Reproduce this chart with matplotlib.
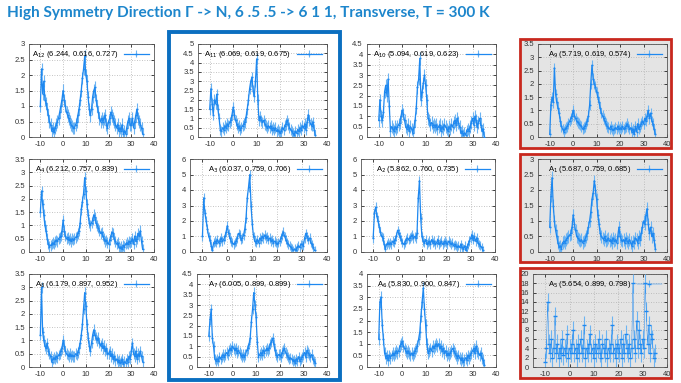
import numpy as np
import matplotlib
matplotlib.use("Agg")
import matplotlib.pyplot as plt
from matplotlib.patches import Rectangle

plt.rcParams['axes.unicode_minus'] = False
plt.rcParams['font.family'] = ['Liberation Sans', 'DejaVu Sans']

# ---------------- data ----------------
x_vals = np.arange(-10, 35.01, 0.5)   # energy axis, 91 points

A12 = [1.0, 2.2, 1.4, 1.8, 1.2, 1.1, 0.9, 0.7, 0.5, 0.4,
       0.2, 0.3, 0.15, 0.3, 0.4, 0.5, 0.6, 0.8, 1.0, 1.2,
       1.5, 1.2, 1.0, 0.8, 0.7, 0.6, 0.5, 0.4, 0.35, 0.3,
       0.3, 0.4, 0.5, 0.7, 0.9, 1.2, 1.5, 1.9, 2.2, 2.6,
       2.0, 1.8, 1.3, 0.9, 0.7, 0.9, 1.3, 1.5, 1.6, 1.2,
       1.0, 0.8, 0.6, 0.5, 0.6, 0.5, 0.6, 0.7, 0.4, 0.3,
       0.5, 0.6, 0.8, 0.7, 0.6, 0.5, 0.4, 0.3, 0.4, 0.2,
       0.3, 0.2, 0.4, 0.1, 0.2, 0.1, 0.3, 0.5, 0.6, 0.4,
       0.4, 0.6, 0.3, 0.5, 0.7, 0.9, 0.6, 0.5, 0.4, 0.3,
       0.1]
A11 = [1.5, 2.6, 1.8, 1.2, 2.0, 1.8, 2.3, 1.5, 1.0, 0.4,
       0.3, 0.5, 0.4, 0.6, 0.5, 0.7, 0.6, 0.8, 0.9, 1.2,
       1.6, 1.2, 0.9, 0.7, 0.5, 0.6, 0.4, 0.5, 0.6, 0.7,
       0.8, 1.1, 1.5, 2.0, 2.6, 3.0, 3.2, 2.5, 2.2, 3.0,
       4.2, 2.0, 0.9, 1.1, 0.9, 0.8, 0.9, 0.7, 0.6, 0.5,
       0.6, 0.5, 0.6, 0.4, 0.5, 0.4, 0.5, 0.3, 0.4, 0.3,
       0.2, 0.3, 0.5, 0.4, 0.6, 0.7, 0.9, 0.7, 0.5, 0.4,
       0.3, 0.2, 0.1, 0.3, 0.2, 0.4, 0.3, 0.5, 0.4, 0.6,
       0.5, 0.7, 0.4, 0.8, 1.2, 0.9, 0.7, 0.6, 0.8, 0.4,
       0.1]
A10 = [0.8, 1.8, 1.0, 0.8, 1.2, 2.2, 2.5, 2.0, 2.8, 1.5,
       0.3, 0.5, 0.4, 0.3, 0.5, 0.4, 0.5, 0.6, 0.7, 1.0,
       1.3, 1.1, 0.8, 0.5, 0.4, 0.6, 0.3, 0.5, 0.4, 0.2,
       0.5, 0.8, 1.4, 2.4, 2.8, 3.8, 1.8, 2.2, 2.6, 3.0,
       2.5, 1.8, 0.9, 0.8, 0.6, 0.7, 0.5, 0.6, 0.5, 0.6,
       0.4, 0.5, 0.6, 0.3, 0.5, 0.4, 0.6, 0.5, 0.4, 0.3,
       0.5, 0.4, 0.6, 0.5, 0.7, 0.8, 0.6, 0.9, 0.7, 0.5,
       0.2, 0.3, 0.1, 0.2, 0.1, 0.3, 0.4, 0.3, 0.5, 0.7,
       0.9, 0.6, 1.0, 0.8, 0.5, 0.7, 0.9, 0.6, 0.3, 0.4,
       0.0]
A9 = [0.1, 1.2, 1.5, 1.3, 2.6, 1.6, 1.3, 1.1, 0.9, 0.6,
      0.4, 0.3, 0.2, 0.3, 0.35, 0.4, 0.5, 0.6, 0.7, 0.8,
      1.0, 0.8, 0.7, 0.6, 0.55, 0.5, 0.45, 0.4, 0.3, 0.35,
      0.4, 0.5, 0.6, 0.8, 1.2, 2.0, 2.7, 2.2, 2.0, 1.9,
      1.7, 1.5, 1.3, 1.1, 0.9, 0.8, 0.7, 0.6, 0.5, 0.4,
      0.35, 0.3, 0.4, 0.3, 0.25, 0.3, 0.35, 0.3, 0.4, 0.3,
      0.35, 0.3, 0.4, 0.3, 0.35, 0.4, 0.5, 0.4, 0.3, 0.35,
      0.2, 0.3, 0.1, 0.4, 0.2, 0.5, 0.3, 0.4, 0.5, 0.6,
      0.5, 0.7, 0.6, 0.8, 1.0, 0.7, 0.9, 0.6, 0.5, 0.3,
      0.1]
A4 = [1.5, 2.3, 1.8, 1.4, 1.0, 0.8, 0.5, 0.3, 0.2, 0.25,
      0.3, 0.35, 0.3, 0.4, 0.45, 0.4, 0.5, 0.55, 0.6, 0.8,
      1.2, 0.8, 0.6, 0.5, 0.55, 0.45, 0.5, 0.4, 0.5, 0.45,
      0.5, 0.55, 0.6, 0.7, 0.8, 1.1, 1.6, 1.9, 2.2, 2.8,
      2.3, 1.8, 1.4, 1.1, 1.0, 1.1, 1.2, 1.4, 1.3, 1.1,
      1.0, 0.9, 0.8, 0.7, 0.75, 0.6, 0.5, 0.4, 0.45, 0.35,
      0.3, 0.45, 0.6, 0.75, 0.7, 0.5, 0.4, 0.3, 0.35, 0.2,
      0.15, 0.2, 0.1, 0.25, 0.2, 0.3, 0.35, 0.3, 0.4, 0.35,
      0.4, 0.5, 0.3, 0.6, 0.4, 0.5, 0.7, 0.6, 0.8, 0.4,
      0.1]
A3 = [1.0, 3.5, 2.5, 2.0, 1.5, 1.0, 0.8, 0.4, 0.1, 0.6,
      0.7, 0.6, 0.8, 0.6, 0.7, 0.9, 0.7, 0.8, 1.0, 1.3,
      1.7, 1.2, 0.9, 0.7, 0.6, 0.5, 0.6, 0.7, 0.9, 1.2,
      1.1, 0.8, 0.9, 1.1, 1.5, 2.2, 3.5, 4.2, 5.0, 3.0,
      1.8, 1.0, 0.7, 0.6, 0.8, 0.6, 0.9, 0.8, 1.0, 0.9,
      1.1, 0.9, 1.0, 0.8, 0.9, 0.7, 0.8, 0.6, 0.7, 0.6,
      0.5, 0.6, 0.7, 0.9, 1.1, 1.3, 1.0, 0.8, 0.6, 0.5,
      0.4, 0.3, 0.2, 0.1, 0.2, 0.1, 0.3, 0.4, 0.3, 0.5,
      0.5, 0.4, 0.9, 1.2, 1.0, 0.8, 0.9, 0.6, 0.5, 0.3,
      0.1]
A2 = [0.9, 2.5, 2.9, 2.3, 2.0, 1.6, 1.3, 1.0, 0.9, 0.5,
      0.2, 0.5, 0.6, 0.5, 0.6, 0.5, 0.7, 0.6, 0.8, 1.0,
      1.4, 1.2, 1.0, 0.8, 0.6, 0.5, 0.6, 0.8, 0.9, 0.8,
      0.9, 1.0, 1.1, 0.9, 1.0, 0.9, 1.2, 3.5, 4.6, 2.2,
      1.0, 0.7, 0.6, 0.8, 0.5, 0.6, 0.7, 0.5, 0.8, 0.6,
      0.7, 0.5, 0.6, 0.8, 0.5, 0.6, 0.7, 0.5, 0.6, 0.7,
      0.6, 0.5, 0.7, 0.6, 0.5, 0.6, 0.4, 0.5, 0.4, 0.3,
      0.4, 0.3, 0.5, 0.3, 0.2, 0.4, 0.1, 0.3, 0.5, 0.7,
      0.9, 1.1, 0.8, 1.0, 0.7, 0.9, 0.6, 0.5, 0.4, 0.3,
      0.1]
A1 = [0.8, 1.8, 2.4, 1.5, 1.0, 0.7, 0.5, 0.3, 0.15, 0.2,
      0.1, 0.3, 0.35, 0.3, 0.4, 0.45, 0.5, 0.55, 0.6, 0.8,
      1.2, 0.9, 0.7, 0.5, 0.45, 0.4, 0.35, 0.4, 0.3, 0.35,
      0.4, 0.5, 0.6, 0.8, 1.0, 1.3, 1.7, 1.9, 2.3, 2.0,
      1.7, 1.2, 0.9, 0.6, 0.5, 0.45, 0.4, 0.5, 0.35, 0.4,
      0.45, 0.35, 0.4, 0.3, 0.45, 0.35, 0.4, 0.3, 0.5, 0.8,
      0.5, 0.4, 0.35, 0.4, 0.3, 0.45, 0.35, 0.3, 0.4, 0.3,
      0.2, 0.35, 0.3, 0.45, 0.4, 0.3, 0.5, 0.4, 0.6, 0.8,
      1.0, 0.9, 1.2, 1.4, 0.9, 0.6, 0.8, 0.5, 0.6, 0.4,
      0.1]
A8 = [1.2, 3.0, 1.3, 1.0, 0.8, 0.7, 0.9, 0.6, 0.5, 0.4,
      0.2, 0.3, 0.35, 0.3, 0.4, 0.35, 0.45, 0.5, 0.6, 0.7,
      1.0, 0.8, 0.6, 0.5, 0.45, 0.4, 0.5, 0.4, 0.45, 0.4,
      0.4, 0.5, 0.45, 0.55, 0.7, 0.9, 1.2, 1.6, 2.2, 2.8,
      2.3, 1.6, 1.1, 0.8, 0.6, 0.9, 1.2, 1.4, 1.2, 1.1,
      1.0, 1.1, 0.9, 0.8, 0.9, 0.7, 0.8, 0.6, 0.7, 0.5,
      0.5, 0.6, 0.4, 0.5, 0.3, 0.4, 0.25, 0.3, 0.2, 0.25,
      0.15, 0.2, 0.3, 0.1, 0.2, 0.15, 0.3, 0.2, 0.4, 0.3,
      0.6, 0.9, 0.5, 0.4, 0.6, 0.3, 0.5, 0.4, 0.6, 0.4,
      0.2]
A7 = [1.5, 2.3, 2.8, 1.4, 1.0, 0.4, 0.3, 0.4, 0.3, 0.5,
      0.4, 0.5, 0.6, 0.5, 0.6, 0.7, 0.6, 0.8, 0.9, 0.8,
      1.0, 0.9, 0.8, 0.9, 0.7, 0.8, 0.7, 0.6, 0.5, 0.6,
      0.5, 0.6, 0.8, 0.9, 1.1, 1.4, 2.2, 2.8, 3.6, 3.0,
      2.4, 1.2, 0.5, 0.6, 0.7, 0.6, 0.8, 0.7, 0.8, 0.9,
      0.8, 0.9, 1.1, 1.2, 1.4, 1.1, 0.8, 0.6, 0.5, 0.6,
      0.6, 0.5, 0.7, 0.8, 0.9, 0.7, 0.6, 0.5, 0.4, 0.45,
      0.4, 0.3, 0.35, 0.2, 0.4, 0.3, 0.5, 0.3, 0.4, 0.5,
      0.6, 0.7, 0.5, 0.8, 0.7, 0.6, 0.5, 0.6, 0.4, 0.3,
      0.2]
A6 = [1.2, 2.8, 3.0, 1.8, 1.2, 0.6, 0.4, 0.5, 0.3, 0.5,
      0.4, 0.5, 0.6, 0.5, 0.6, 0.7, 0.6, 0.7, 0.9, 1.0,
      1.1, 0.9, 0.8, 0.7, 0.6, 0.7, 0.6, 0.5, 0.6, 0.5,
      0.6, 0.7, 0.8, 0.9, 1.2, 1.5, 2.2, 2.8, 3.4, 2.5,
      1.8, 1.0, 0.6, 0.7, 0.8, 0.7, 0.9, 0.8, 0.9, 1.0,
      0.9, 1.0, 0.8, 0.9, 0.7, 0.8, 0.6, 0.7, 0.5, 0.6,
      0.5, 0.6, 0.7, 0.8, 0.7, 0.6, 0.5, 0.4, 0.5, 0.4,
      0.3, 0.4, 0.2, 0.3, 0.4, 0.3, 0.5, 0.4, 0.5, 0.6,
      0.7, 0.8, 0.6, 0.9, 0.7, 0.6, 0.5, 0.6, 0.4, 0.3,
      0.1]
A5 = [1.0, 4.0, 14.0, 5.0, 3.0, 6.0, 2.0, 4.0, 11.0, 3.0,
      5.0, 2.0, 4.0, 3.0, 6.0, 2.5, 4.0, 3.0, 7.0, 2.0,
      4.0, 3.0, 5.0, 8.0, 3.0, 4.0, 2.0, 5.0, 3.0, 6.0,
      3.0, 4.0, 9.0, 2.0, 4.0, 3.0, 5.0, 7.0, 3.0, 4.0,
      2.0, 5.0, 3.0, 4.0, 6.0, 3.0, 2.0, 5.0, 4.0, 3.0,
      6.0, 2.0, 4.0, 3.0, 5.0, 9.0, 3.0, 4.0, 2.0, 5.0,
      4.0, 3.0, 6.0, 2.0, 5.0, 3.0, 7.0, 4.0, 3.0, 5.0,
      2.0, 4.0, 18.0, 6.0, 3.0, 10.0, 4.0, 8.0, 5.0, 3.0,
      6.0, 4.0, 18.0, 12.0, 5.0, 9.0, 3.0, 7.0, 6.0, 2.0,
      3.0]

series = [[A12, A11, A10, A9], [A4, A3, A2, A1], [A8, A7, A6, A5]]
names = [["12", "11", "10", "9"], ["4", "3", "2", "1"], ["8", "7", "6", "5"]]
params = [["(6.244, 0.616, 0.727)", "(6.069, 0.619, 0.675)", "(5.094, 0.619, 0.623)", "(5.719, 0.619, 0.574)"],
          ["(6.212, 0.757, 0.839)", "(6.037, 0.759, 0.706)", "(5.862, 0.760, 0.735)", "(5.687, 0.759, 0.685)"],
          ["(6.179, 0.897, 0.952)", "(6.005, 0.899, 0.899)", "(5.830, 0.900, 0.847)", "(5.654, 0.899, 0.798)"]]
err_levels = [[0.2, 0.3, 0.3, 0.2], [0.2, 0.3, 0.3, 0.2], [0.2, 0.25, 0.25, 2.0]]
ymax = [[3, 5, 4.5, 3.5], [3.5, 6, 6, 3], [3.5, 4.5, 4, 20]]
ystep = [[0.5, 0.5, 0.5, 0.5], [0.5, 1, 1, 0.5], [0.5, 0.5, 0.5, 2]]
x_ticks = [-10, 0, 10, 20, 30, 40]
title = "High Symmetry Direction \u0393 -> N, 6 .5 .5 -> 6 1 1, Transverse, T = 300 K"

for row in series:
    for s in row:
        assert len(s) == len(x_vals)

# ---------------- layout (pixels) ----------------
W, H = 681, 383
fig = plt.figure(figsize=(W / 100, H / 100), dpi=100)

rows_tb = [(44, 137), (159, 252), (274, 367)]
cols_lr = [[(29, 154), (198, 327), (367, 496), (538, 667)],
           [(29, 154), (190, 327), (361, 495), (538, 667)],
           [(29, 154), (197, 327), (367, 496), (533, 667)]]

gray = '#e4e4e4'
# red boxes with grey fill (column 4)
for (t, b) in [(39, 148), (154, 262), (268, 378)]:
    fig.patches.append(Rectangle((520 / W, 1 - b / H), (671 - 520) / W, (b - t) / H,
                                 transform=fig.transFigure, facecolor=gray,
                                 edgecolor='#c8281e', linewidth=2.0, zorder=0))
# blue box (column 2)
fig.patches.append(Rectangle((169 / W, 1 - 380 / H), (340 - 169) / W, (380 - 32) / H,
                             transform=fig.transFigure, facecolor='none',
                             edgecolor='#0b6fc0', linewidth=2.8, zorder=5))

fig.text(7 / W, 1 - 13 / H, title, fontsize=11.1, fontweight='bold', color='#1d86cc',
         family=['Lato', 'DejaVu Sans'], ha='left', va='center')

line_c = '#1e88f0'
err_c = '#6db4f2'
for r in range(3):
    t, b = rows_tb[r]
    for c in range(4):
        l, rr = cols_lr[r][c]
        ax = fig.add_axes([l / W, 1 - b / H, (rr - l) / W, (b - t) / H], zorder=2)
        ax.set_facecolor(gray if c == 3 else 'white')
        y = np.array(series[r][c])
        lab = "A$_{%s}$ %s" % (names[r][c], params[r][c])
        scatter_like = (r == 2 and c == 3)
        ax.errorbar(x_vals, y, yerr=err_levels[r][c], color=line_c, ecolor=err_c,
                    elinewidth=0.8, linewidth=0.35 if scatter_like else 0.9,
                    marker='_', markersize=2.5 if scatter_like else 1.5,
                    capsize=0, label=lab, zorder=3)
        ax.set_xlim(-15, 40)
        ax.set_ylim(0, ymax[r][c])
        ax.set_xticks(x_ticks)
        yt = np.arange(0, ymax[r][c] + 1e-9, ystep[r][c])
        ax.set_yticks(yt)
        ax.set_yticklabels(['%g' % v for v in yt])
        ax.grid(True, color='#b0b0b0', linestyle=(0, (1, 2)), linewidth=0.6)
        ax.tick_params(direction='in', length=2, width=0.5, labelsize=5.5,
                       labelcolor='#333333', pad=3, top=True, right=True)
        for sp in ax.spines.values():
            sp.set_linewidth(0.6)
            sp.set_color('#555555')
        ax.legend(loc='upper right', frameon=False, fontsize=5.5,
                  markerfirst=False, handlelength=3.2, borderaxespad=0.3,
                  handletextpad=0.8)

fig.savefig('out.png', dpi=100)
